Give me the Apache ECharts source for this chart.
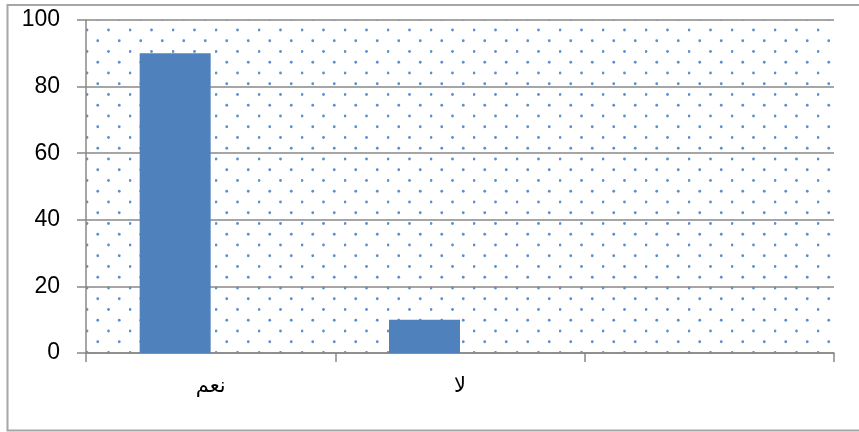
<!DOCTYPE html>
<html>
<head>
<meta charset="utf-8">
<script src="https://cdn.jsdelivr.net/npm/echarts@6/dist/echarts.min.js"></script>
<style>
  html, body { margin: 0; padding: 0; background: #fff; }
  #graphics { width: 859px; height: 432px; }
</style>
</head>
<body>
<div id="graphics"></div>
<script>
// chart data
var categories = ['نعم', 'لا', ''];
var values = [90, 10, '-'];
var yTicks = [0, 20, 40, 60, 80, 100];

// dotted background tile for the plot area
function dotTile() {
    var c = document.createElement('canvas');
    c.width = 43;
    c.height = 43;
    var ctx = c.getContext('2d');
    ctx.fillStyle = '#5b8fd0';
    var pts = [[1, 8.5], [22.5, 8.5], [1, 30], [22.5, 30],
               [11.75, 19.25], [33.25, 19.25], [11.75, 40.75], [33.25, 40.75]];
    pts.forEach(function (p) {
        ctx.beginPath();
        ctx.arc(p[0], p[1], 1.4, 0, Math.PI * 2);
        ctx.fill();
    });
    return c;
}

var myChart = echarts.init(document.getElementById('graphics'));

var option = {
    animation: false,
    grid: {
        left: 86, right: 25, top: 20, bottom: 79,
        show: true,
        borderWidth: 0,
        backgroundColor: { image: dotTile(), repeat: 'repeat' }
    },
    graphic: [{
        type: 'rect',
        shape: { x: 7.5, y: 5, width: 900, height: 425.5 },
        style: { fill: 'none', stroke: '#a6a6a6', lineWidth: 2 },
        silent: true
    }],
    xAxis: {
        type: 'category',
        data: categories,
        axisLine: { lineStyle: { color: '#888', width: 1.5 } },
        axisTick: { show: true, length: 9, lineStyle: { color: '#888', width: 1.5 } },
        axisLabel: {
            color: '#000', fontSize: 21, margin: 23,
            fontFamily: "'Liberation Serif', 'DejaVu Sans', serif"
        }
    },
    yAxis: {
        type: 'value',
        min: yTicks[0],
        max: yTicks[yTicks.length - 1],
        interval: 20,
        axisLine: { show: true, lineStyle: { color: '#888', width: 1.5 } },
        axisTick: { show: true, length: 9, lineStyle: { color: '#888', width: 1.5 } },
        splitLine: { lineStyle: { color: '#888', width: 1.5 } },
        axisLabel: {
            color: '#000', fontSize: 23, margin: 26,
            fontFamily: "'Liberation Sans', Arial, sans-serif"
        }
    },
    series: [{
        type: 'bar',
        data: values,
        barWidth: 71,
        barGap: '0%',
        itemStyle: { color: '#4f81bd' }
    }, {
        type: 'bar',
        data: ['-', '-', '-'],
        barWidth: 71,
        itemStyle: { color: '#c0504d' }
    }]
};

myChart.setOption(option);
</script>
</body>
</html>
